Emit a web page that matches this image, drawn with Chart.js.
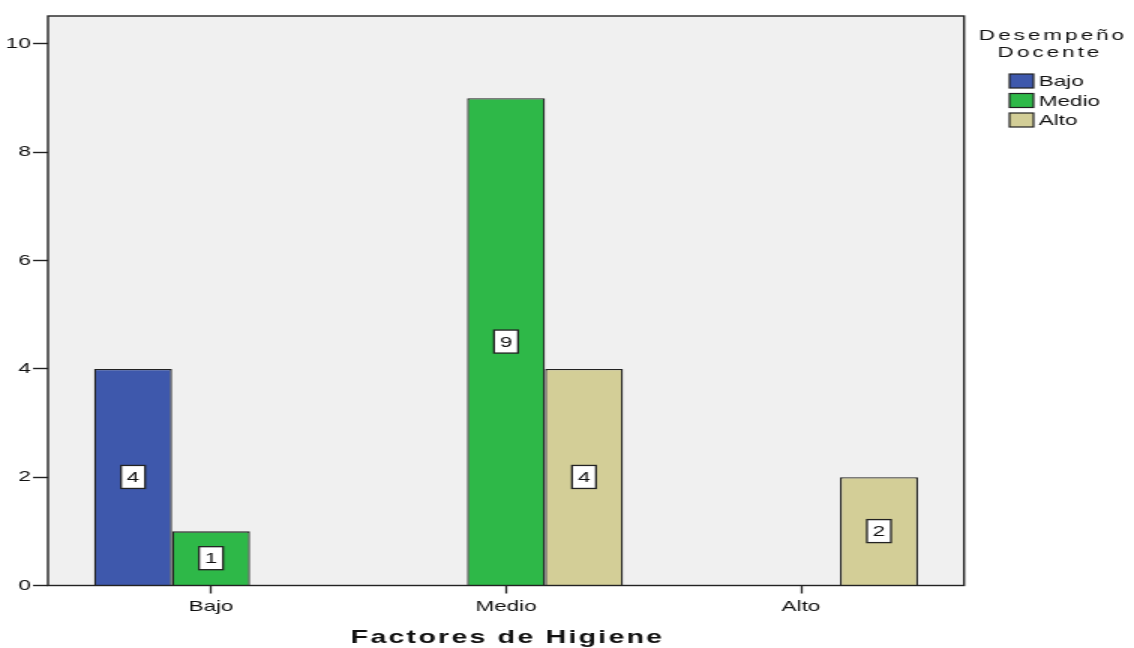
<!DOCTYPE html>
<html>
<head>
<meta charset="utf-8">
<script src="https://cdn.jsdelivr.net/npm/chart.js@4.4.1/dist/chart.umd.min.js"></script>
<style>
  html, body { margin: 0; padding: 0; background: #fff; overflow: hidden; }
  /* el gráfico original está estirado a lo ancho */
  #caja { width: 756px; height: 648px; transform: scaleX(1.5); transform-origin: 0 0; }
</style>
</head>
<body>
<div id="caja"><canvas id="grafico"></canvas></div>
<script>
// Datos del gráfico
const categorias = ['Bajo', 'Medio', 'Alto'];           // Factores de Higiene
const series = ['Bajo', 'Medio', 'Alto'];               // Desempeño Docente
const desempenoBajo = [4, 0, 0];
const desempenoMedio = [1, 9, 0];
const desempenoAlto = [0, 4, 2];
const ticksY = [0, 2, 4, 6, 8, 10];

const colores = ['#3e58ac', '#2eb848', '#d3ce97'];
const fuente = "'Liberation Sans', Arial, sans-serif";
const linea = '#222222';
const texto = '#111111';

function puntos(valores) {
    return valores.map((v, i) => ({ x: i, y: v }));
}

// Fondo gris del área del gráfico
const fondoPlot = {
    id: 'fondoPlot',
    beforeDatasetsDraw(chart) {
        const { ctx, chartArea: a } = chart;
        ctx.save();
        ctx.fillStyle = '#f0f0f0';
        ctx.fillRect(a.left, a.top, a.right - a.left, a.bottom - a.top);
        ctx.restore();
    }
};

// Marco y etiquetas de valor
const marcoYEtiquetas = {
    id: 'marcoYEtiquetas',
    afterDatasetsDraw(chart) {
        const { ctx, chartArea: a } = chart;
        ctx.save();
        ctx.strokeStyle = linea;
        ctx.lineWidth = 1.4;
        ctx.strokeRect(a.left, a.top, a.right - a.left, a.bottom - a.top);

        ctx.font = '15px ' + fuente;
        ctx.textAlign = 'center';
        ctx.textBaseline = 'middle';
        chart.data.datasets.forEach((ds, d) => {
            const meta = chart.getDatasetMeta(d);
            meta.data.forEach((barra, i) => {
                const valor = ds.data[i].y;
                if (!valor) return;
                const cx = barra.x;
                const cy = (barra.y + barra.base) / 2;
                ctx.fillStyle = '#ffffff';
                ctx.fillRect(cx - 8, cy - 11.5, 16, 23);
                ctx.strokeStyle = linea;
                ctx.lineWidth = 1.3;
                ctx.strokeRect(cx - 8, cy - 11.5, 16, 23);
                ctx.fillStyle = texto;
                ctx.fillText(String(valor), cx, cy + 1);
            });
        });
        ctx.restore();
    }
};

// Leyenda y título del eje X
const leyendaYTitulo = {
    id: 'leyendaYTitulo',
    afterDraw(chart) {
        const { ctx, chartArea: a } = chart;
        ctx.save();
        ctx.fillStyle = texto;
        ctx.textAlign = 'center';
        ctx.textBaseline = 'alphabetic';

        // título del eje X
        ctx.font = 'bold 19px ' + fuente;
        ctx.letterSpacing = '1.5px';
        ctx.fillText('Factores de Higiene', (a.left + a.right) / 2 + 1, 643);

        // título de la leyenda
        ctx.font = '15px ' + fuente;
        ctx.letterSpacing = '2px';
        ctx.fillText('Desempeño', 702, 40);
        ctx.fillText('Docente', 700, 57);

        // elementos de la leyenda
        ctx.letterSpacing = '0px';
        ctx.textAlign = 'left';
        ctx.textBaseline = 'middle';
        series.forEach((nombre, i) => {
            const y = 81 + i * 19.5;
            ctx.fillStyle = colores[i];
            ctx.fillRect(673, y - 7, 16, 14);
            ctx.strokeStyle = linea;
            ctx.lineWidth = 1.2;
            ctx.strokeRect(673, y - 7, 16, 14);
            ctx.fillStyle = texto;
            ctx.fillText(nombre, 692.5, y + 1);
        });
        ctx.restore();
    }
};

const ctx = document.getElementById('grafico').getContext('2d');
const grafico = new Chart(ctx, {
    type: 'bar',
    data: {
        datasets: [
            { label: series[0], data: puntos(desempenoBajo), backgroundColor: colores[0] },
            { label: series[1], data: puntos(desempenoMedio), backgroundColor: colores[1] },
            { label: series[2], data: puntos(desempenoAlto), backgroundColor: colores[2] }
        ]
    },
    options: {
        responsive: true,
        maintainAspectRatio: false,
        animation: false,
        layout: { padding: { top: 16, right: 113.3, left: 0, bottom: 0 } },
        datasets: {
            bar: {
                categoryPercentage: 0.793,
                barPercentage: 1,
                borderColor: linea,
                borderWidth: 1.3
            }
        },
        scales: {
            x: {
                type: 'linear',
                min: -0.5527,
                max: 2.5527,
                offset: false,
                afterBuildTicks(scale) { scale.ticks = categorias.map((c, i) => ({ value: i })); },
                afterFit(scale) { scale.height = 62.5; },
                grid: { offset: false, drawOnChartArea: false, drawTicks: true, tickLength: 8, tickColor: linea, tickWidth: 1.3 },
                border: { display: false },
                ticks: {
                    padding: 4,
                    color: texto,
                    font: { family: fuente, size: 15 },
                    callback: v => categorias[v]
                }
            },
            y: {
                min: 0,
                max: 10.517,
                afterBuildTicks(scale) { scale.ticks = ticksY.map(v => ({ value: v })); },
                afterFit(scale) { scale.width = 32; },
                grid: { drawOnChartArea: false, drawTicks: true, tickLength: 10, tickColor: linea, tickWidth: 1.4 },
                border: { display: false },
                ticks: {
                    padding: 1.5,
                    color: texto,
                    font: { family: fuente, size: 15 }
                }
            }
        },
        plugins: {
            legend: { display: false },
            tooltip: { enabled: false }
        }
    },
    plugins: [fondoPlot, marcoYEtiquetas, leyendaYTitulo]
});
</script>
</body>
</html>
